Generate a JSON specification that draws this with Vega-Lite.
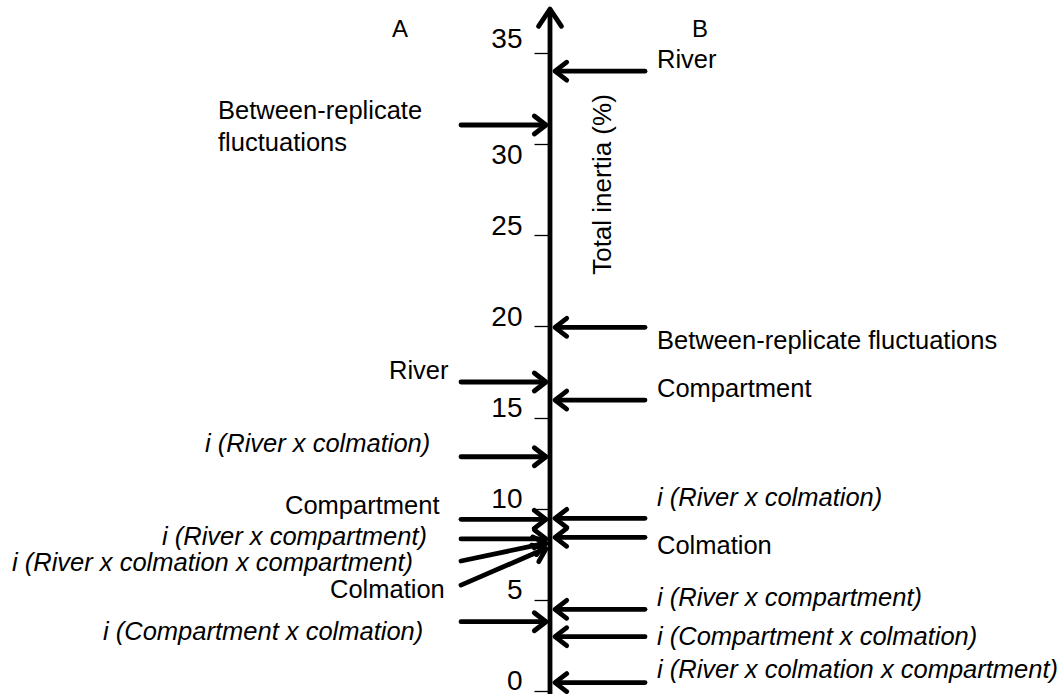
{
  "$schema": "https://vega.github.io/schema/vega-lite/v6.json",
  "width": 1060,
  "height": 694,
  "padding": 0,
  "autosize": {"type": "none"},
  "background": "white",
  "config": {"view": {"stroke": null}, "font": "Liberation Sans"},
  "datasets": {
    "arrows": [
      {"side": "A", "label": "Between-replicate\nfluctuations", "v": 31.05, "v0": 31.05, "dir": 0, "lv": 31.82, "lx": -332},
      {"side": "A", "label": "River", "v": 16.95, "v0": 16.95, "dir": 0, "lv": 17.55, "lx": -161},
      {"side": "A", "label": "i (River x colmation)", "v": 12.85, "v0": 12.85, "dir": 0, "lv": 13.55, "lx": -345},
      {"side": "A", "label": "Compartment", "v": 9.42, "v0": 9.42, "dir": 0, "lv": 10.15, "lx": -265},
      {"side": "A", "label": "i (River x compartment)", "v": 8.34, "v0": 8.34, "dir": 0, "lv": 8.45, "lx": -388},
      {"side": "A", "label": "i (River x colmation x compartment)", "v": 8.1, "v0": 7.13, "dir": -12, "lv": 7.02, "lx": -538},
      {"side": "A", "label": "Colmation", "v": 7.8, "v0": 5.81, "dir": -23, "lv": 5.54, "lx": -220},
      {"side": "A", "label": "i (Compartment x colmation)", "v": 3.8, "v0": 3.8, "dir": 0, "lv": 3.24, "lx": -447},
      {"side": "B", "label": "River", "v": 34.0, "lv": 34.61},
      {"side": "B", "label": "Between-replicate fluctuations", "v": 19.95, "lv": 19.2},
      {"side": "B", "label": "Compartment", "v": 15.96, "lv": 16.57},
      {"side": "B", "label": "i (River x colmation)", "v": 9.47, "lv": 10.59},
      {"side": "B", "label": "Colmation", "v": 8.43, "lv": 7.95},
      {"side": "B", "label": "i (River x compartment)", "v": 4.48, "lv": 5.1},
      {"side": "B", "label": "i (Compartment x colmation)", "v": 2.98, "lv": 2.96},
      {"side": "B", "label": "i (River x colmation x compartment)", "v": 0.46, "lv": 1.15}
    ]
  },
  "layer": [
    {
      "data": {"values": [{}]},
      "mark": {"type": "rule", "color": "black", "strokeWidth": 4.8},
      "encoding": {
        "x": {"datum": 0, "type": "quantitative", "scale": {"domain": [-550, 510], "nice": false, "zero": false}, "axis": null},
        "y": {
          "datum": -0.165, "type": "quantitative",
          "scale": {"domain": [-0.165, 37.907], "nice": false, "zero": false},
          "axis": {
            "orient": "left", "offset": -548, "domain": false, "grid": false,
            "values": [0, 5, 10, 15, 20, 25, 30, 35],
            "ticks": true, "tickSize": 14, "tickWidth": 1.3, "tickColor": "black",
            "labelFont": "Liberation Sans", "labelFontSize": 28, "labelColor": "black",
            "labelPadding": 12, "labelBound": false, "labelOverlap": false, "labelFlush": false,
            "labelOffset": {"condition": [{"test": "datum.value === 30", "value": 11}, {"test": "datum.value === 35", "value": -13}], "value": -9},
            "title": "Total inertia (%)", "titleFont": "Liberation Sans", "titleFontSize": 26,
            "titleFontWeight": "normal", "titleColor": "black", "titleAngle": 270,
            "titleX": 54, "titleY": 184, "titleAlign": "center", "titleBaseline": "middle"
          }
        },
        "y2": {"datum": 37.3}
      }
    },
    {
      "data": {"values": [{}]},
      "mark": {"type": "point", "shape": "M -1 1.5 L 0 0 L 1 1.5", "size": 529, "filled": false, "color": "black", "strokeWidth": 4.8, "strokeJoin": "round", "strokeCap": "round", "opacity": 1},
      "encoding": {
        "x": {"datum": 0, "type": "quantitative", "scale": {"domain": [-550, 510], "nice": false, "zero": false}, "axis": null},
        "y": {"datum": 37.41, "type": "quantitative", "scale": {"domain": [-0.165, 37.907], "nice": false, "zero": false}}
      }
    },
    {
      "data": {"name": "arrows"},
      "transform": [{"filter": "datum.side === 'A'"}],
      "mark": {"type": "rule", "color": "black", "strokeWidth": 4.8, "strokeCap": "round"},
      "encoding": {
        "x": {"datum": -89, "type": "quantitative", "scale": {"domain": [-550, 510], "nice": false, "zero": false}, "axis": null},
        "x2": {"datum": -5},
        "y": {"field": "v0", "type": "quantitative", "scale": {"domain": [-0.165, 37.907], "nice": false, "zero": false}},
        "y2": {"field": "v"}
      }
    },
    {
      "data": {"name": "arrows"},
      "transform": [{"filter": "datum.side === 'A'"}],
      "mark": {"type": "point", "shape": "M -1.3 -1 L 0 0 L -1.3 1", "size": 324, "filled": false, "color": "black", "strokeWidth": 4.8, "strokeJoin": "round", "strokeCap": "round", "opacity": 1},
      "encoding": {
        "x": {"datum": -4, "type": "quantitative", "scale": {"domain": [-550, 510], "nice": false, "zero": false}, "axis": null},
        "y": {"field": "v", "type": "quantitative", "scale": {"domain": [-0.165, 37.907], "nice": false, "zero": false}},
        "angle": {"field": "dir", "type": "quantitative", "scale": null}
      }
    },
    {
      "data": {"name": "arrows"},
      "transform": [{"filter": "datum.side === 'B'"}],
      "mark": {"type": "rule", "color": "black", "strokeWidth": 4.8, "strokeCap": "round"},
      "encoding": {
        "x": {"datum": 95, "type": "quantitative", "scale": {"domain": [-550, 510], "nice": false, "zero": false}, "axis": null},
        "x2": {"datum": 6},
        "y": {"field": "v", "type": "quantitative", "scale": {"domain": [-0.165, 37.907], "nice": false, "zero": false}}
      }
    },
    {
      "data": {"name": "arrows"},
      "transform": [{"filter": "datum.side === 'B'"}],
      "mark": {"type": "point", "shape": "M 1.3 -1 L 0 0 L 1.3 1", "size": 324, "filled": false, "color": "black", "strokeWidth": 4.8, "strokeJoin": "round", "strokeCap": "round", "opacity": 1},
      "encoding": {
        "x": {"datum": 5, "type": "quantitative", "scale": {"domain": [-550, 510], "nice": false, "zero": false}, "axis": null},
        "y": {"field": "v", "type": "quantitative", "scale": {"domain": [-0.165, 37.907], "nice": false, "zero": false}}
      }
    },
    {
      "data": {"name": "arrows"},
      "transform": [{"filter": "datum.side === 'A'"}],
      "mark": {"type": "text", "align": "left", "baseline": "middle", "font": "Liberation Sans", "fontSize": 25.5, "color": "black", "lineBreak": "\n", "lineHeight": 32,
        "fontStyle": {"expr": "indexof(datum.label, 'i (') === 0 ? 'italic' : 'normal'"}},
      "encoding": {
        "x": {"field": "lx", "type": "quantitative", "scale": {"domain": [-550, 510], "nice": false, "zero": false}, "axis": null},
        "y": {"field": "lv", "type": "quantitative", "scale": {"domain": [-0.165, 37.907], "nice": false, "zero": false}},
        "text": {"field": "label"}
      }
    },
    {
      "data": {"name": "arrows"},
      "transform": [{"filter": "datum.side === 'B'"}],
      "mark": {"type": "text", "align": "left", "baseline": "middle", "font": "Liberation Sans", "fontSize": 25.5, "color": "black",
        "fontStyle": {"expr": "indexof(datum.label, 'i (') === 0 ? 'italic' : 'normal'"}},
      "encoding": {
        "x": {"datum": 107, "type": "quantitative", "scale": {"domain": [-550, 510], "nice": false, "zero": false}, "axis": null},
        "y": {"field": "lv", "type": "quantitative", "scale": {"domain": [-0.165, 37.907], "nice": false, "zero": false}},
        "text": {"field": "label"}
      }
    },
    {
      "data": {"values": [{"panel": "A"}]},
      "mark": {"type": "text", "align": "center", "baseline": "middle", "font": "Liberation Sans", "fontSize": 24, "color": "black"},
      "encoding": {
        "x": {"datum": -150, "type": "quantitative", "scale": {"domain": [-550, 510], "nice": false, "zero": false}, "axis": null},
        "y": {"datum": 36.26, "type": "quantitative", "scale": {"domain": [-0.165, 37.907], "nice": false, "zero": false}},
        "text": {"field": "panel"}
      }
    },
    {
      "data": {"values": [{"panel": "B"}]},
      "mark": {"type": "text", "align": "center", "baseline": "middle", "font": "Liberation Sans", "fontSize": 24, "color": "black"},
      "encoding": {
        "x": {"datum": 150, "type": "quantitative", "scale": {"domain": [-550, 510], "nice": false, "zero": false}, "axis": null},
        "y": {"datum": 36.26, "type": "quantitative", "scale": {"domain": [-0.165, 37.907], "nice": false, "zero": false}},
        "text": {"field": "panel"}
      }
    }
  ]
}
